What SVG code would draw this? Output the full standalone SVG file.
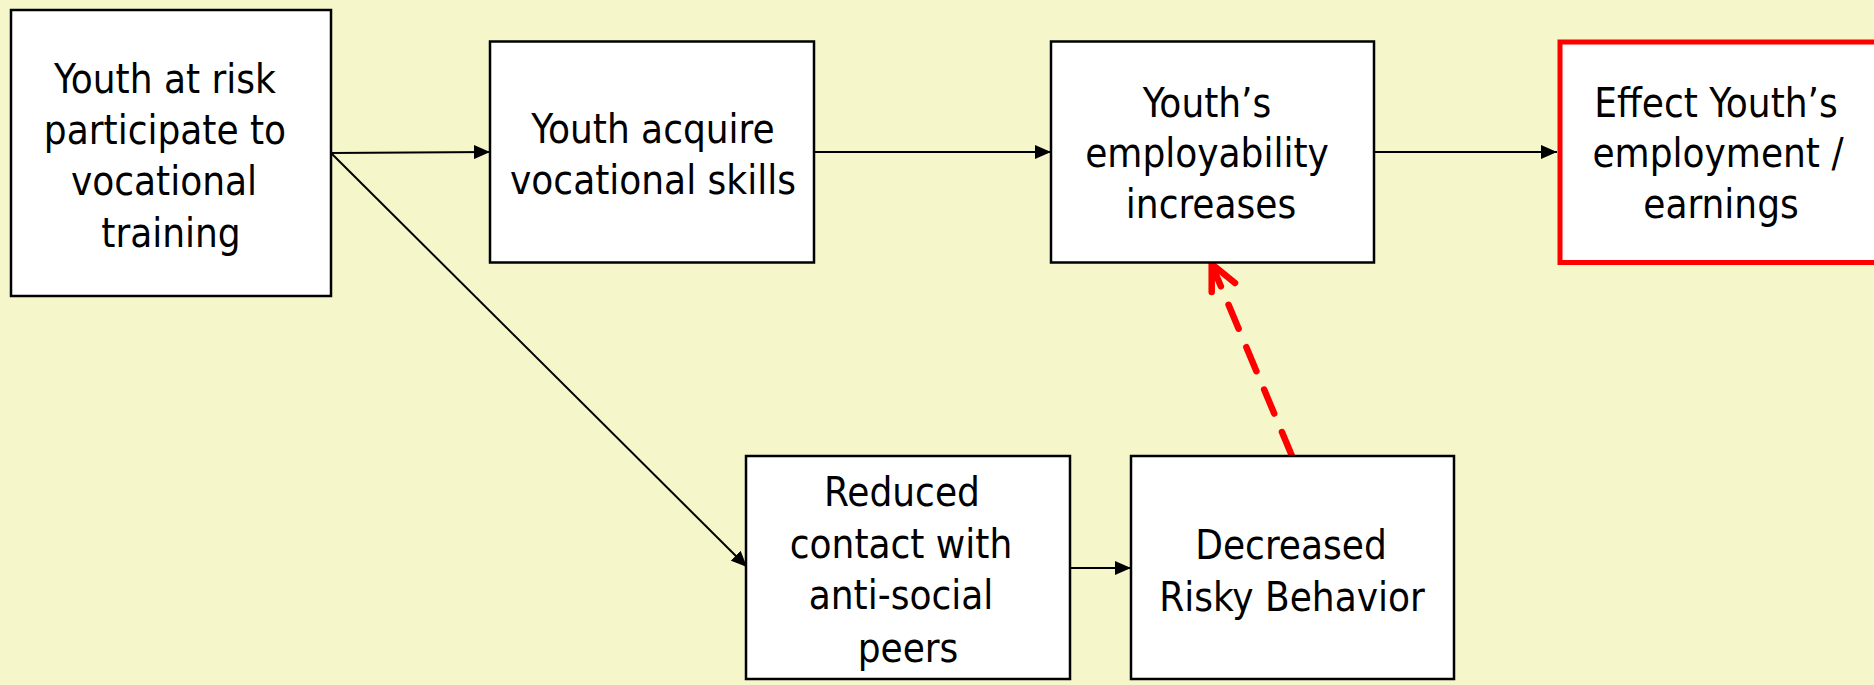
<svg xmlns="http://www.w3.org/2000/svg" width="1874" height="685" viewBox="0 0 1874 685">
<style>
.box{fill:#ffffff;stroke:#000000;stroke-width:2.5}
.red{fill:#ffffff;stroke:#ff0000;stroke-width:5}
.t{font-family:"DejaVu Sans Condensed","Liberation Sans",sans-serif;font-size:40px;fill:#000000;text-anchor:middle}
.c{stroke:#000000;stroke-width:2;fill:none}
.d{stroke:#ff0000;stroke-width:6.5;fill:none;stroke-dasharray:26 20;stroke-linecap:round}
</style>
<defs>
<marker id="ah" markerUnits="userSpaceOnUse" markerWidth="16" markerHeight="14" refX="16" refY="7" orient="auto">
<path d="M0,0 L16,7 L0,14 Z" fill="#000000"/>
</marker>
</defs>
<rect x="0" y="0" width="1874" height="685" fill="#f5f7ca"/>
<g id="connectors">
<line class="c" x1="331" y1="153" x2="490" y2="152" marker-end="url(#ah)"/>
<line class="c" x1="331" y1="153" x2="747" y2="567" marker-end="url(#ah)"/>
<line class="c" x1="814" y1="152" x2="1051" y2="152" marker-end="url(#ah)"/>
<line class="c" x1="1374" y1="152" x2="1557" y2="152" marker-end="url(#ah)"/>
<line class="c" x1="1070" y1="568" x2="1131" y2="568" marker-end="url(#ah)"/>
<line class="d" x1="1292" y1="456" x2="1214" y2="270"/>
<polyline points="1211.7,292 1211.7,264 1235,283" fill="none" stroke="#ff0000" stroke-width="6.5" stroke-linecap="round" stroke-linejoin="round"/>
</g>
<g id="n1">
<rect class="box" x="11" y="10" width="320" height="286"/>
<text class="t" x="165" y="93">Youth at risk</text>
<text class="t" x="165" y="144">participate to</text>
<text class="t" x="164" y="195">vocational</text>
<text class="t" x="171" y="247">training</text>
</g>
<g id="n2">
<rect class="box" x="490" y="41.5" width="324" height="221"/>
<text class="t" x="653" y="143">Youth acquire</text>
<text class="t" x="653" y="194">vocational skills</text>
</g>
<g id="n3">
<rect class="box" x="1051" y="41.5" width="323" height="221"/>
<text class="t" x="1207" y="117">Youth’s</text>
<text class="t" x="1207" y="167">employability</text>
<text class="t" x="1211" y="218">increases</text>
</g>
<g id="n4">
<rect class="red" x="1560" y="42" width="330" height="220.5"/>
<text class="t" x="1716" y="117">Effect Youth’s</text>
<text class="t" x="1718" y="167">employment /</text>
<text class="t" x="1721" y="218">earnings</text>
</g>
<g id="n5">
<rect class="box" x="746" y="456" width="324" height="223"/>
<text class="t" x="902" y="506">Reduced</text>
<text class="t" x="901" y="558">contact with</text>
<text class="t" x="901" y="609">anti-social</text>
<text class="t" x="908" y="662">peers</text>
</g>
<g id="n6">
<rect class="box" x="1131" y="456" width="323" height="223"/>
<text class="t" x="1291" y="559">Decreased</text>
<text class="t" x="1292" y="611">Risky Behavior</text>
</g>
</svg>
